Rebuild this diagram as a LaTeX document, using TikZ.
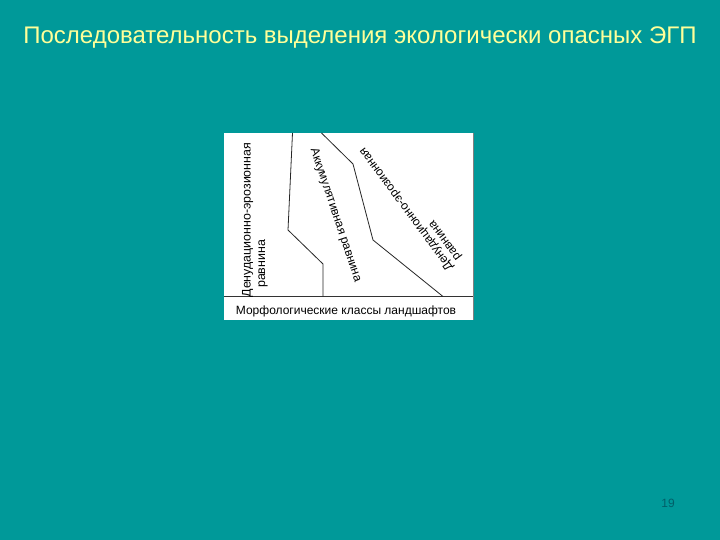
\documentclass[tikz,border=0pt]{standalone}
\usepackage{fontspec}
\setmainfont{Liberation Sans}
\definecolor{bg}{RGB}{0,153,153}
\definecolor{titlec}{RGB}{255,255,153}
\definecolor{pagec}{RGB}{0,95,105}
\begin{document}
\begin{tikzpicture}[x=1pt,y=-1pt,
  lbl/.style={inner sep=0pt,font=\fontsize{12}{14}\selectfont,text=black},
  bound/.style={line width=0.8pt,draw=black!85}]
\fill[bg] (0,0) rectangle (720,540);
\useasboundingbox (0,0) rectangle (720,540);
% title
\node[text=titlec,font=\fontsize{24}{28}\selectfont] (title) at (360,37.5) {Последовательность выделения экологически опасных ЭГП};
% figure
\fill[white] (224,133) rectangle (474,320);
\draw[black!50,line width=0.6pt] (473,133) -- (473,320);
\draw[black!80,line width=0.7pt] (224,296.5) -- (473,296.5);
\draw[bound] (292.5,133) -- (288,230) -- (323,264) -- (323,296.5);
\draw[bound] (321.5,133) -- (353,164) -- (373,240) -- (443,296.5);
% labels
\node[lbl,font=\fontsize{12.4}{14}\selectfont,anchor=base west,rotate=90] (l1) at (250.5,297.5) {Денудационно-эрозионная};
\node[lbl,font=\fontsize{12.4}{14}\selectfont,anchor=base west,rotate=90] (l2) at (265,288) {равнина};
\node[lbl,anchor=center,rotate=-71.5] (m1) at (335.5,215) {Аккумулятивная равнина};
\node[lbl,anchor=center,rotate=126.4] (r1) at (406.5,209) {Денудационно-эрозионная};
\node[lbl,anchor=center,rotate=126.4] (r2) at (445.8,239.6) {равнина};
\node[lbl,anchor=center] (cap) at (346,311) {Морфологические классы ландшафтов};
% page number
\node[text=pagec,font=\fontsize{12}{14}\selectfont] (pg) at (668,503) {19};
\end{tikzpicture}
\end{document}
